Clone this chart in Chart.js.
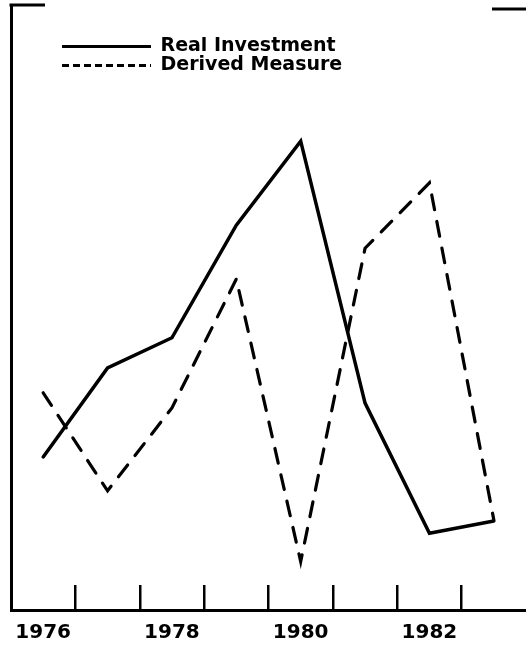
<!DOCTYPE html>
<html>
<head>
<meta charset="utf-8">
<title>Real Investment and Derived Measure</title>
<script src="https://cdn.jsdelivr.net/npm/chart.js@4.4.1/dist/chart.umd.min.js"></script>
<style>
  html, body { margin: 0; padding: 0; background: #fff; }
  #wrap { position: relative; width: 526px; height: 650px; }
</style>
</head>
<body>
<div id="wrap"><canvas id="investChart"></canvas></div>
<script>
const years = ['1976', '1977', '1978', '1979', '1980', '1981', '1982', '1983'];
const labeledYears = ['1976', '1978', '1980', '1982'];
const seriesNames = ['Real Investment', 'Derived Measure'];
// no scale printed on the y axis, values are relative units
const realInvestment = [25.3, 40.0, 45.0, 63.6, 77.5, 34.2, 12.7, 14.7];
const derivedMeasure = [35.9, 19.7, 33.4, 54.7, 8.0, 59.8, 70.6, 14.9];

const font = "'DejaVu Sans', 'Liberation Sans', sans-serif";
const legendDash = [[], [7, 4]];

// legend sits inside the plot, a bit in from the left axis
const legendNudge = {
    id: 'legendNudge',
    afterLayout(chart) {
        const lg = chart.legend;
        if (!lg) return;
        lg.left += 51;
        lg.right += 51;
        lg.top += 37;
        lg.bottom += 37;
    }
};

// short pieces of the top frame that show in the original
const frameCorners = {
    id: 'frameCorners',
    afterDraw(chart) {
        const { ctx, chartArea: a } = chart;
        ctx.save();
        ctx.strokeStyle = '#000';
        ctx.lineWidth = 3;
        ctx.beginPath();
        ctx.moveTo(a.left - 1.5, a.top);
        ctx.lineTo(a.left + 34, a.top);
        ctx.moveTo(a.right - 34, a.top + 4);
        ctx.lineTo(a.right, a.top + 4);
        ctx.stroke();
        ctx.restore();
    }
};

const ctx = document.getElementById('investChart').getContext('2d');
const myChart = new Chart(ctx, {
    type: 'line',
    data: {
        labels: years,
        datasets: [{
            label: seriesNames[0],
            data: realInvestment,
            borderColor: '#000',
            borderWidth: 3.5,
            borderCapStyle: 'round',
            pointRadius: 0,
            tension: 0,
            fill: false
        }, {
            label: seriesNames[1],
            data: derivedMeasure,
            borderColor: '#000',
            borderWidth: 3.2,
            borderDash: [15, 12],
            borderCapStyle: 'round',
            pointRadius: 0,
            tension: 0,
            fill: false
        }]
    },
    options: {
        responsive: true,
        maintainAspectRatio: false,
        animation: false,
        events: [],
        layout: { padding: { top: 5, left: 0, right: 0, bottom: 0 } },
        scales: {
            x: {
                type: 'category',
                offset: true,
                afterFit: s => {
                    s.height = 40;
                    // big label padding should only push labels down, not squeeze the plot sideways
                    s.paddingLeft = 0;
                    s.paddingRight = 0;
                },
                border: { display: true, width: 3, color: '#000' },
                grid: {
                    display: true,
                    offset: true,
                    drawOnChartArea: false,
                    drawTicks: true,
                    tickLength: -25,
                    tickWidth: 2.5,
                    lineWidth: 2.5,
                    color: c => (c.index > 0 ? '#000' : 'rgba(0,0,0,0)'),
                    tickColor: c => (c.index > 0 ? '#000' : 'rgba(0,0,0,0)')
                },
                ticks: {
                    autoSkip: false,
                    maxRotation: 0,
                    padding: 36,
                    color: '#000',
                    font: { family: font, size: 20, weight: 'bold' },
                    callback: function (value) {
                        const lab = String(this.getLabelForValue(value));
                        return labeledYears.includes(lab) ? lab : '';
                    }
                }
            },
            y: {
                min: 0,
                max: 100,
                afterFit: s => { s.width = 11; },
                border: { display: true, width: 3, color: '#000' },
                grid: { display: false },
                ticks: { display: false }
            }
        },
        plugins: {
            tooltip: { enabled: false },
            legend: {
                position: 'chartArea',
                align: 'start',
                labels: {
                    usePointStyle: true,
                    pointStyle: 'line',
                    pointStyleWidth: 89,
                    padding: 0,
                    color: '#000',
                    font: { family: font, size: 19, weight: 'bold' },
                    generateLabels(chart) {
                        const items = Chart.defaults.plugins.legend.labels.generateLabels(chart);
                        items.forEach((it, i) => {
                            it.lineDash = legendDash[i];
                            it.lineWidth = 3;
                            it.pointStyle = 'line';
                        });
                        return items;
                    }
                }
            }
        }
    },
    plugins: [legendNudge, frameCorners]
});
</script>
</body>
</html>
